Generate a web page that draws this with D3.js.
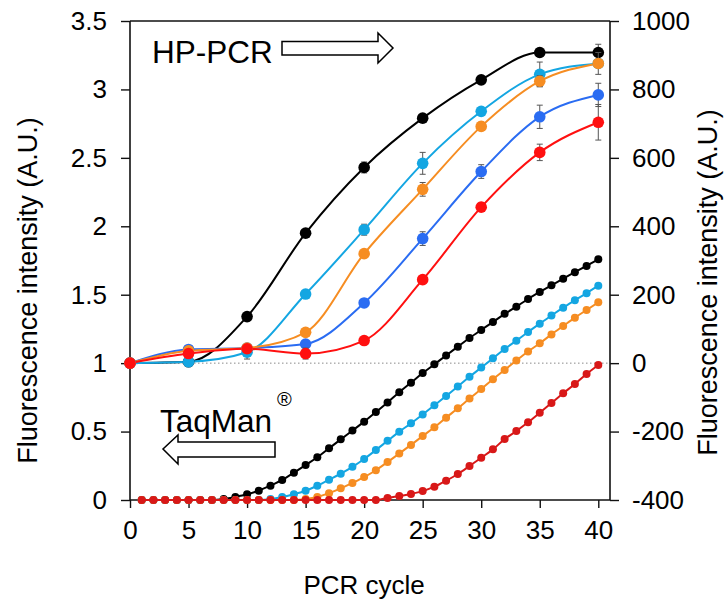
<!DOCTYPE html>
<html><head><meta charset="utf-8">
<script src="https://cdn.jsdelivr.net/npm/d3@7"></script>
<style>
body{margin:0;background:#fff}
svg{display:block}
text{font-family:"Liberation Sans",Arial,Helvetica,sans-serif;fill:#000}
</style>
</head><body>
<svg id="chart" width="725" height="603"></svg>
<script>
// ---------- DATA ----------
const hpCycles = [0,5,10,15,20,25,30,35,40];
const hpBlack  = [1.00,1.01,1.34,1.95,2.43,2.79,3.07,3.27,3.27];
const hpCyan   = [1.00,1.01,1.08,1.505,1.975,2.46,2.84,3.11,3.19];
const hpOrange = [1.00,1.09,1.11,1.225,1.80,2.27,2.73,3.06,3.19];
const hpBlue   = [1.00,1.10,1.11,1.14,1.44,1.91,2.40,2.80,2.96];
const hpRed    = [1.00,1.07,1.105,1.07,1.165,1.61,2.14,2.54,2.76];
const hpBlackErr  = [0,0,0.03,0.02,0.04,0.02,0.02,0.02,0.06];
const hpCyanErr   = [0,0.01,0.05,0.02,0.04,0.08,0.02,0.09,0.02];
const hpOrangeErr = [0,0.01,0.02,0.02,0.02,0.05,0.03,0.04,0.08];
const hpBlueErr   = [0,0.01,0.02,0.02,0.02,0.05,0.05,0.085,0.085];
const hpRedErr    = [0,0.01,0.02,0.04,0.02,0.02,0.03,0.06,0.13];

const tmCycles = [1,2,3,4,5,6,7,8,9,10,11,12,13,14,15,16,17,18,19,20,
                  21,22,23,24,25,26,27,28,29,30,31,32,33,34,35,36,37,38,39,40];
const tmBlack  = [-400,-400,-400,-400,-400,-400,-400,-397,-391,-383.4,-372.7,-358,-341.5,-320,-297.7,-275,-249,-222.7,-197,-171,
                  -143,-115,-85,-57,-29,-3.5,22.5,48,73.5,97,120,144,165,187.5,208,227.4,247,266,284,303.4];
const tmCyan   = [-400,-400,-400,-400,-400,-400,-400,-400,-400,-400,-400,-397,-391,-383,-373,-358,-341,-323,-303,-280,
                  -254,-227,-200.3,-176,-150,-123,-96,-68,-40,-13,14,41.5,65.7,91,115.4,139.3,162.2,183.6,204.5,226.5];
const tmOrange = [-400,-400,-400,-400,-400,-400,-400,-400,-400,-400,-400,-400,-400,-400,-397,-391,-380,-366,-350,-333,
                  -313,-289,-264,-239,-213,-187.6,-159.3,-132,-103.5,-75.6,-47,-20,7.5,34,58,84,108.6,133,155.3,177.8];
const tmRed    = [-400,-400,-400,-400,-400,-400,-400,-400,-400,-400,-400,-400,-400,-400,-400,-400,-400,-400,-400,-400,
                  -400,-394,-388.5,-382.4,-374,-361,-343.5,-324,-300.6,-276.5,-252,-222,-198.5,-173,-145,-116.5,-88.2,-61,-31.7,-5.4];

const xTicks = [0,5,10,15,20,25,30,35,40];
const leftTicks = [0,0.5,1,1.5,2,2.5,3,3.5];
const leftTickLabels = ["0","0.5","1","1.5","2","2.5","3","3.5"];
const rightTicks = [-400,-200,0,200,400,600,800,1000];
const rightTickLabels = ["-400","-200","0","200","400","600","800","1000"];

const hpSeries = [
  {name:"black",  values:hpBlack,  err:hpBlackErr,  color:"#000000"},
  {name:"cyan",   values:hpCyan,   err:hpCyanErr,   color:"#14a6e2"},
  {name:"blue",   values:hpBlue,   err:hpBlueErr,   color:"#2a6cf2"},
  {name:"orange", values:hpOrange, err:hpOrangeErr, color:"#f68d22"},
  {name:"red",    values:hpRed,    err:hpRedErr,    color:"#ff1010"}
];
const tmSeries = [
  {name:"black",  values:tmBlack,  color:"#000000"},
  {name:"cyan",   values:tmCyan,   color:"#14a6e2"},
  {name:"orange", values:tmOrange, color:"#f68d22"},
  {name:"red",    values:tmRed,    color:"#d81818"}
];

// ---------- LAYOUT ----------
const svg = d3.select("#chart");
const L = 130, R = 610, T = 21, B = 500;
const x = d3.scaleLinear().domain([0,41]).range([L,R]);
const yL = d3.scaleLinear().domain([0,3.5]).range([B,T]);
const yR = d3.scaleLinear().domain([-400,1000]).range([B,T]);

// dotted reference line at left=1 / right=0
svg.append("line").attr("x1",L).attr("x2",R).attr("y1",yL(1)).attr("y2",yL(1))
  .attr("stroke","#8a8a8a").attr("stroke-width",1).attr("stroke-dasharray","1.5,2.5");

// axes
const fs = 26;
const gx = svg.append("g").attr("transform",`translate(0,${B})`)
  .call(d3.axisBottom(x).tickValues(xTicks).tickSize(8).tickPadding(13).tickFormat(d3.format("d")));
const gl = svg.append("g").attr("transform",`translate(${L},0)`)
  .call(d3.axisLeft(yL).tickValues(leftTicks).tickSize(9).tickPadding(14).tickFormat((d,i)=>leftTickLabels[i]));
const gr = svg.append("g").attr("transform",`translate(${R},0)`)
  .call(d3.axisRight(yR).tickValues(rightTicks).tickSize(9).tickPadding(13).tickFormat((d,i)=>rightTickLabels[i]));
[gx,gl,gr].forEach(g=>{
  g.selectAll("path.domain").attr("stroke","#111").attr("stroke-width",1.6);
  g.selectAll(".tick line").attr("stroke","#111").attr("stroke-width",1.4);
  g.selectAll(".tick text").style("font-size",fs+"px").style("font-family",'"Liberation Sans",Arial,sans-serif').attr("fill","#000");
});
gx.select("path.domain").attr("d",`M${L},0H${R}`);
gl.select("path.domain").attr("d",`M0,${B}V${T}`);
gr.select("path.domain").attr("d",`M0,${B}V${T}`);
// top frame
svg.append("line").attr("x1",L).attr("x2",R).attr("y1",T).attr("y2",T).attr("stroke","#111").attr("stroke-width",1.6);

// axis titles
svg.append("text").attr("transform",`translate(37,${(T+B)/2+30}) rotate(-90)`).attr("text-anchor","middle")
  .style("font-size","27px").text("Fluorescence intensity (A.U.)");
svg.append("text").attr("transform",`translate(717,${(T+B)/2+22}) rotate(-90)`).attr("text-anchor","middle")
  .style("font-size","27px").text("Fluorescence intensity (A.U.)");
svg.append("text").attr("x",x(20)).attr("y",594).attr("text-anchor","middle")
  .style("font-size","26px").text("PCR cycle");

// ---------- TaqMan series (right axis) ----------
const tmLine = d3.line().x(d=>x(d[0])).y(d=>yR(d[1])).curve(d3.curveMonotoneX);
tmSeries.forEach(s=>{
  const pts = tmCycles.map((c,i)=>[c,s.values[i]]);
  svg.append("path").datum(pts).attr("d",tmLine).attr("fill","none")
    .attr("stroke",s.color).attr("stroke-width",2);
  svg.append("g").selectAll("circle").data(pts).join("circle")
    .attr("cx",d=>x(d[0])).attr("cy",d=>yR(d[1])).attr("r",4)
    .attr("fill",s.color);
});

// ---------- HP-PCR series (left axis) ----------
const hpLine = d3.line().x(d=>x(d[0])).y(d=>yL(d[1])).curve(d3.curveMonotoneX);
hpSeries.forEach(s=>{
  const pts = hpCycles.map((c,i)=>[c,s.values[i],s.err[i]]);
  svg.append("path").datum(pts).attr("d",hpLine).attr("fill","none")
    .attr("stroke",s.color).attr("stroke-width",2);
});
hpSeries.forEach(s=>{
  const pts = hpCycles.map((c,i)=>[c,s.values[i],s.err[i]]);
  const g = svg.append("g");
  const eb = g.selectAll("g.eb").data(pts.filter(d=>d[2]>0)).join("g");
  eb.append("line").attr("x1",d=>x(d[0])).attr("x2",d=>x(d[0]))
    .attr("y1",d=>yL(d[1]+d[2])).attr("y2",d=>yL(d[1]-d[2])).attr("stroke","#555").attr("stroke-width",1);
  [1,-1].forEach(sg=>{
    eb.append("line").attr("x1",d=>x(d[0])-3).attr("x2",d=>x(d[0])+3)
      .attr("y1",d=>yL(d[1]+sg*d[2])).attr("y2",d=>yL(d[1]+sg*d[2])).attr("stroke","#555").attr("stroke-width",1);
  });
  g.selectAll("circle").data(pts).join("circle")
    .attr("cx",d=>x(d[0])).attr("cy",d=>yL(d[1])).attr("r",5.8).attr("fill",s.color);
});

// ---------- Annotations ----------
svg.append("text").attr("x",152).attr("y",62.5).style("font-size","31.5px").text("HP-PCR");
const arrowR = [[282,41.5],[378,41.5],[378,33],[393,48],[378,63],[378,55],[282,55]];
svg.append("path").attr("d","M"+arrowR.map(p=>p.join(",")).join("L")+"Z")
  .attr("fill","#fff").attr("stroke","#000").attr("stroke-width",1.5);

svg.append("text").attr("x",160).attr("y",432).style("font-size","31.5px").text("TaqMan");
svg.append("text").attr("x",277).attr("y",406).style("font-size","20px").text("®");
const arrowL = [[275,442],[178,442],[178,435],[163,449],[178,464],[178,457],[275,457]];
svg.append("path").attr("d","M"+arrowL.map(p=>p.join(",")).join("L")+"Z")
  .attr("fill","#fff").attr("stroke","#000").attr("stroke-width",1.5);
</script>
</body></html>
